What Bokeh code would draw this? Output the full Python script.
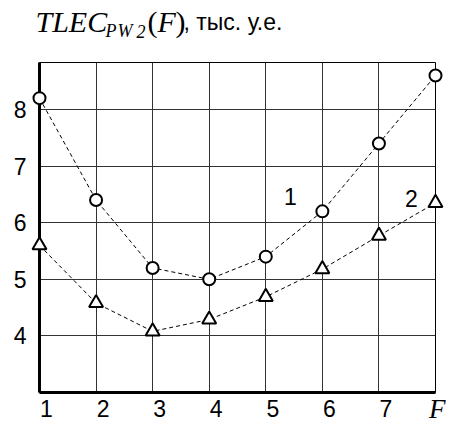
from bokeh.plotting import figure
from bokeh.models import Range1d, FixedTicker
from bokeh.core.properties import value
from bokeh.embed import file_html
from bokeh.resources import INLINE

# data
F = [1, 2, 3, 4, 5, 6, 7, 8]
tlec1 = [8.2, 6.4, 5.2, 5.0, 5.4, 6.2, 7.4, 8.6]
tlec2 = [5.6, 4.58, 4.08, 4.29, 4.69, 5.18, 5.77, 6.35]
xtick_labels = ["1", "2", "3", "4", "5", "6", "7"]
xticks = [1, 2, 3, 4, 5, 6, 7]
yticks = [4, 5, 6, 7, 8]
series_names = ["1", "2"]

SANS = "Liberation Sans"
SERIF = "Liberation Serif"

W, H = 450, 422
LEFT, RIGHT, TOP, BOTTOM = 39, 15, 62, 30
X0, X1, Y0, Y1 = 1, 8, 3, 8.83

p = figure(width=W, height=H, output_backend="svg", toolbar_location=None,
           x_range=Range1d(X0, X1), y_range=Range1d(Y0, Y1),
           min_border_left=LEFT, min_border_right=RIGHT, min_border_top=TOP,
           min_border_bottom=BOTTOM)

# helpers: page pixel -> data coordinate (layout only)
def dx(px):
    return X0 + (px - LEFT) * (X1 - X0) / (W - LEFT - RIGHT)

def dy(py):
    return Y0 + (H - BOTTOM - py) * (Y1 - Y0) / (H - TOP - BOTTOM)

p.background_fill_color = "white"
p.border_fill_color = "white"
p.outline_line_color = "black"
p.outline_line_width = 1
p.outline_line_alpha = 1

# axes (x labels are drawn as text below, so the x axis carries no ticks)
p.xaxis.ticker = FixedTicker(ticks=[])
p.yaxis.ticker = FixedTicker(ticks=yticks)
for ax in (p.xaxis, p.yaxis):
    ax.axis_line_width = 3
    ax.axis_line_color = "black"
    ax.major_tick_line_color = None
    ax.minor_tick_line_color = None
    ax.major_tick_out = 0
    ax.major_tick_in = 0
p.xaxis.major_label_standoff = 0
p.yaxis.major_label_text_font = SANS
p.yaxis.major_label_text_font_size = "23px"
p.yaxis.major_label_text_color = "black"
p.yaxis.major_label_standoff = 13

# grid
p.xgrid.ticker = FixedTicker(ticks=[2, 3, 4, 5, 6, 7, 8])
p.ygrid.ticker = FixedTicker(ticks=yticks)
for g in (p.xgrid, p.ygrid):
    g.grid_line_color = "#333333"
    g.grid_line_width = 1
    g.grid_line_alpha = 1

# series
p.line(F, tlec1, line_color="black", line_width=1, line_dash="4 3")
p.line(F, tlec2, line_color="black", line_width=1, line_dash="4 3")
p.scatter(F, tlec1, marker="circle", size=12, fill_color="white",
          line_color="black", line_width=2, level="overlay")
p.scatter(F, tlec2, marker="triangle", size=14, fill_color="white",
          line_color="black", line_width=2, level="overlay")

common = dict(text_baseline="alphabetic", text_color="black", level="overlay")

# series numbers
p.text(x=[dx(290), dx(411)], y=[dy(196), dy(198)], text=series_names,
       text_font=value(SANS), text_font_size="23px", text_align="center",
       **common)

# x tick labels
p.text(x=xticks, y=[dy(408)] * len(xticks), text=xtick_labels,
       text_font=value(SANS), text_font_size="23px", text_align="center",
       x_offset=7, **common)
p.text(x=[dx(445)], y=[dy(408)], text=["F"], text_font=value(SERIF),
       text_font_style="italic", text_font_size="27px", text_align="right",
       **common)

# title pieces
p.text(x=[dx(35), dx(157)], y=[dy(20.5), dy(20.5)], text=["TLEC", "F"],
       text_font=value(SERIF), text_font_style="italic", text_font_size="30px",
       **common)
p.text(x=[dx(147), dx(175)], y=[dy(20.5), dy(20.5)], text=["(", ")"],
       text_font=value(SERIF), text_font_size="30px", **common)
p.text(x=[dx(105), dx(117), dx(136)], y=[dy(30.5)] * 3, text=["P", "W", "2"],
       text_font=value(SERIF), text_font_style="italic", text_font_size="18px",
       **common)
p.text(x=[dx(183)], y=[dy(21.5)], text=[", тыс. у.е."], text_font=value(SANS),
       text_font_size="23px", **common)

open("out.html", "w").write(file_html(p, INLINE))
